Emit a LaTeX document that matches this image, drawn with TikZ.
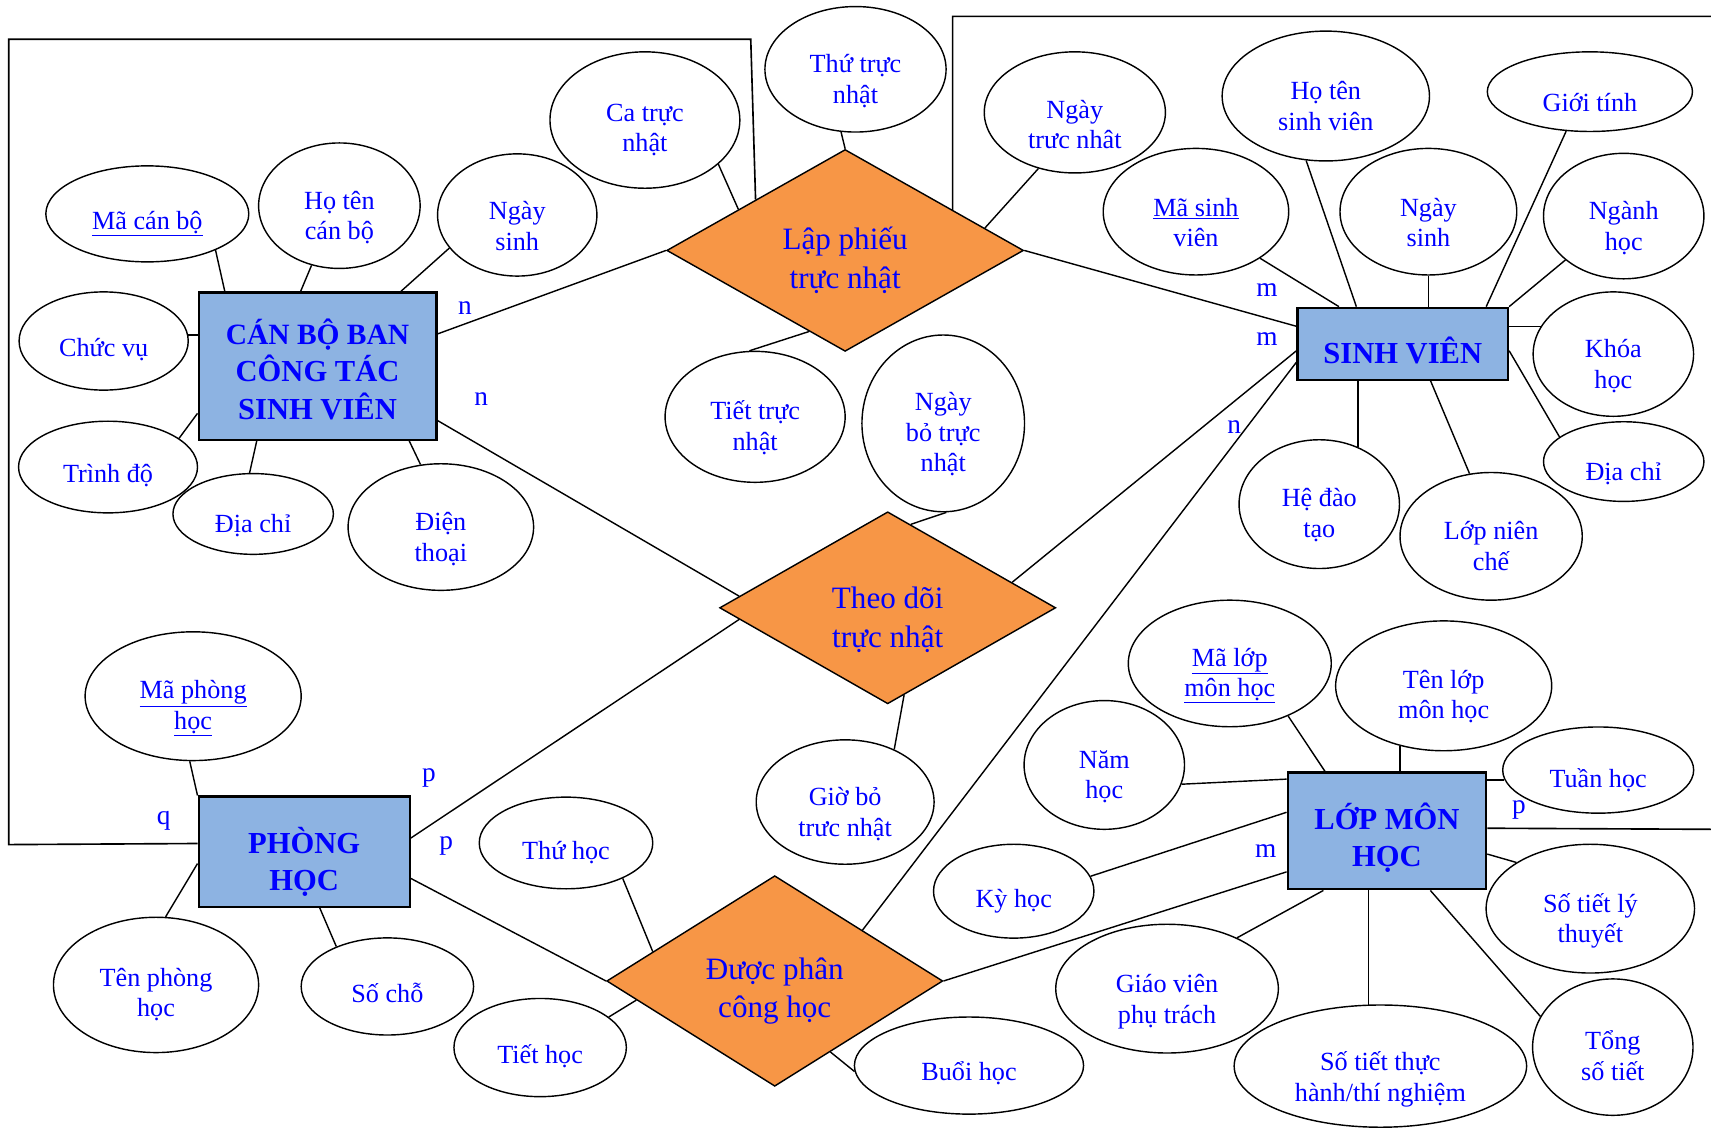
\documentclass[tikz,border=0pt]{standalone}
\usepackage{fontspec}
\setmainfont{Liberation Serif}
\usetikzlibrary{shapes.geometric,calc}
\definecolor{entblue}{HTML}{8DB3E2}
\definecolor{relorange}{HTML}{F79646}
\definecolor{txtblue}{HTML}{0000FF}
% shape style, name, x, y, width, height, text shift (down), text
\newcommand{\ernode}[8]{%
  \node[#1, minimum width=#5pt, minimum height=#6pt] (#2) at (#3,#4) {};
  \node[#1txt] (#2-t) at ($(#2)+(0,#7)$) {#8};}
\begin{document}
\begin{tikzpicture}[x=1pt,y=-1pt,
  ent/.style={draw=black, line width=2pt, fill=entblue, rectangle, inner sep=0pt},
  enttxt/.style={inner sep=0pt, align=center, font=\fontsize{28}{34}\selectfont\bfseries, text=txtblue},
  rel/.style={draw=black, line width=1.3pt, fill=relorange, diamond, inner sep=0pt},
  reltxt/.style={inner sep=0pt, align=center, font=\fontsize{28.5}{35}\selectfont, text=txtblue},
  attr/.style={draw=black, line width=1.3pt, fill=white, ellipse, inner sep=0pt},
  attrtxt/.style={inner sep=0pt, align=center, font=\fontsize{24}{28}\selectfont, text=txtblue},
  card/.style={inner sep=0pt, font=\fontsize{25}{30}\selectfont, text=txtblue},
  conn/.style={draw=black, line width=1.3pt},
  framel/.style={draw=black, line width=1.5pt}
]
\useasboundingbox[fill=white] (0,0) rectangle (1568,1036);

% ---------- entities ----------
\ernode{ent}{cb}{291}{335.5}{218}{135}{3}{\fontsize{27}{34}\selectfont CÁN BỘ BAN\\CÔNG TÁC\\SINH VIÊN}
\ernode{ent}{sv}{1285.5}{315}{193}{66}{6}{SINH VIÊN}
\ernode{ent}{ph}{278.75}{780.5}{193.5}{101}{9}{PHÒNG\\HỌC}
\ernode{ent}{lop}{1271}{761.5}{182}{107}{6}{LỚP MÔN\\HỌC}

% ---------- relationships ----------
\ernode{rel}{lp}{774.5}{229.5}{327}{185}{9}{Lập phiếu\\trực nhật}
\ernode{rel}{td}{813.5}{557}{308}{176}{11}{Theo dõi\\trực nhật}
\ernode{rel}{dp}{710}{899}{308}{193}{9}{Được phân\\công học}

% ---------- attributes ----------
\ernode{attr}{macb}{135}{196}{186}{88}{9}{\underline{Mã cán bộ}}
\ernode{attr}{hotencb}{311}{188.5}{148}{115}{11}{Họ tên\\cán bộ}
\ernode{attr}{ngaysinhcb}{474}{197}{146}{112}{10}{Ngày\\sinh}
\ernode{attr}{catruc}{591}{110}{174}{125}{9}{Ca trực\\nhật}
\ernode{attr}{chucvu}{95}{312.5}{155}{90}{8}{Chức vụ}
\ernode{attr}{trinhdo}{99}{428}{164}{84}{8}{Trình độ}
\ernode{attr}{diachicb}{232}{471}{147}{74}{11}{Địa chỉ}
\ernode{attr}{dienthoai}{404}{483}{170}{116}{11}{Điện\\thoại}
\ernode{attr}{tiettruc}{692}{382}{165}{120}{10}{Tiết trực\\nhật}
\ernode{attr}{thutruc}{784}{63.5}{166}{115}{11}{Thứ trực\\nhật}
\ernode{attr}{ngaytruc}{985}{103}{166}{111}{11}{Ngày\\trưc nhât}
\ernode{attr}{hotensv}{1215}{88}{190}{119}{9}{Họ tên\\sinh viên}
\ernode{attr}{gioitinh}{1457}{84}{188}{73}{10}{Giới tính}
\ernode{attr}{masv}{1096}{194}{170}{116}{10}{\underline{Mã sinh}\\viên}
\ernode{attr}{ngaysinhsv}{1309}{194}{162}{116}{10}{Ngày\\sinh}
\ernode{attr}{nganh}{1488}{198}{147}{115}{11}{Ngành\\học}
\ernode{attr}{khoa}{1478.5}{324.5}{147}{114}{11}{Khóa\\học}
\ernode{attr}{diachisv}{1488}{423}{147}{73}{11}{Địa chỉ}
\ernode{attr}{hedaotao}{1209}{462}{147}{118}{10}{Hệ đào\\tạo}
\ernode{attr}{lopnc}{1366.5}{491.5}{167}{117}{9}{Lớp niên\\chế}
\ernode{attr}{ngaybo}{864.4}{388}{149}{162}{10}{Ngày\\bỏ trực\\nhật}
\ernode{attr}{maphong}{177}{638}{198}{118}{11}{\underline{Mã phòng}\\\underline{học}}
\ernode{attr}{tenphong}{143}{902.6}{188}{124}{9}{Tên phòng\\học}
\ernode{attr}{socho}{355}{904}{158}{89}{6}{Số chỗ}
\ernode{attr}{thuhoc}{518.7}{772.5}{159}{84}{9}{Thứ học}
\ernode{attr}{tiethoc}{495}{960}{158}{90}{8}{Tiết học}
\ernode{attr}{giobo}{774.5}{735}{163}{114}{11}{Giờ bỏ\\trưc nhật}
\ernode{attr}{buoihoc}{888}{976.5}{210}{89}{7}{Buổi học}
\ernode{attr}{malop}{1127}{608}{186}{116}{11}{\underline{Mã lớp}\\\underline{môn học}}
\ernode{attr}{tenlop}{1323}{628.5}{198}{119}{10}{Tên lớp\\môn học}
\ernode{attr}{namhoc}{1012}{701}{147}{118}{11}{Năm\\học}
\ernode{attr}{tuanhoc}{1464.6}{705.7}{175}{79}{9}{Tuần học}
\ernode{attr}{kyhoc}{929}{816.7}{147}{86}{9}{Kỳ học}
\ernode{attr}{solt}{1457.4}{832.7}{191}{118}{11}{Số tiết lý\\thuyết}
\ernode{attr}{giaovien}{1069.5}{906}{204}{118}{12}{Giáo viên\\phụ trách}
\ernode{attr}{sotietth}{1265}{977}{268}{112}{12}{Số tiết thực\\hành/thí nghiệm}
\ernode{attr}{tong}{1478}{959.6}{147}{125}{8}{Tổng\\số tiết}

% ---------- frame lines ----------
\coordinate (fa) at (688,36);
\coordinate (fb) at (8,36);
\coordinate (fc) at (8,774);
\coordinate (fd) at (873,15);
\coordinate (fe) at (1568,15);
\coordinate (ff) at (1568,760);
\draw[framel] ($(lp.west)!0.5!(lp.north)$) -- (fa) -- (fb) -- (fc) -- ($(ph.north west)+(0,44)$);
\draw[framel] ($(lp.north)!0.6!(lp.east)$) -- (fd) -- (fe);
\draw[framel] ($(lop.north east)+(0,52)$) -- (ff);

% ---------- entity-relationship connectors ----------
\draw[conn] ($(cb.north east)+(0,39)$) -- (lp.west);
\draw[conn] (lp.east) -- ($(sv.north west)+(0,18)$);
\draw[conn] ($(cb.north east)+(0,118.4)$) -- ($(td.west)!0.12!(td.north)$);
\draw[conn] ($(ph.north east)+(0,39)$) -- ($(td.west)!0.12!(td.south)$);
\draw[conn] ($(sv.north west)+(0,40.5)$) -- ($(td.north)!0.737!(td.east)$);
\draw[conn] ($(ph.north east)+(0,76)$) -- (dp.west);
\draw[conn] ($(sv.north west)+(0,51)$) -- ($(dp.north)!0.52!(dp.east)$);
\draw[conn] (dp.east) -- ($(lop.north west)+(0,92)$);

% ---------- attribute connectors: CB ----------
\draw[conn] (macb.-28.9) -- ($(cb.north west)+(25,0)$);
\draw[conn] (hotencb.-115.5) -- ($(cb.north west)+(94.5,0)$);
\draw[conn] (ngaysinhcb.-154.2) -- ($(cb.north west)+(186.4,0)$);
\draw[conn] (chucvu.4) -- (chucvu.4 -| cb.west);
\draw[conn] (trinhdo.22.7) -- ($(cb.north west)+(0,111.8)$);
\draw[conn] (diachicb.95) -- ($(cb.south west)+(54.3,0)$);
\draw[conn] (dienthoai.108.2) -- ($(cb.south west)+(194,0)$);

% ---------- attribute connectors: Lap phieu ----------
\draw[conn] (catruc.-31.3) -- ($(lp.west)!0.404!(lp.north)$);
\draw[conn] (thutruc.-103.7) -- (lp.north);
\draw[conn] (tiettruc.95.8) -- ($(lp.west)!0.798!(lp.south)$);
\draw[conn] (ngaytruc.-123.3) -- ($(lp.north)!0.78!(lp.east)$);

% ---------- attribute connectors: SV ----------
\draw[conn] (masv.-36.9) -- ($(sv.north west)+(39,0)$);
\draw[conn] (hotensv.-107.7) -- ($(sv.north west)+(55,0)$);
\draw[conn] (ngaysinhsv.south) -- (ngaysinhsv.south |- sv.north);
\draw[conn] (gioitinh.-121) -- ($(sv.north west)+(174,0)$);
\draw[conn] (nganh.-143) -- (sv.north east);
\draw[conn] (khoa.159.3) -- (khoa.159.3 -| sv.east);
\draw[conn] (diachisv.159) -- ($(sv.north east)+(0,40.4)$);
\draw[conn] (hedaotao.56) -- (hedaotao.56 |- sv.south);
\draw[conn] (lopnc.109.6) -- ($(sv.south west)+(123,0)$);

% ---------- attribute connectors: Theo doi ----------
\draw[conn] (ngaybo.-88) -- ($(td.north)!0.137!(td.east)$);
\draw[conn] (giobo.47.8) -- ($(td.south)!0.097!(td.east)$);

% ---------- attribute connectors: Duoc phan ----------
\draw[conn] (thuhoc.-32) -- ($(dp.west)!0.277!(dp.north)$);
\draw[conn] (tiethoc.24.8) -- ($(dp.west)!0.18!(dp.south)$);
\draw[conn] (buoihoc.183.8) -- ($(dp.south)!0.33!(dp.east)$);

% ---------- attribute connectors: Phong ----------
\draw[conn] (maphong.-93.5) -- (ph.north west);
\draw[conn] (tenphong.82.8) -- ($(ph.north west)+(0,62.4)$);
\draw[conn] (socho.142.6) -- ($(ph.south west)+(112,0)$);

% ---------- attribute connectors: Lop ----------
\draw[conn] (malop.-42.4) -- ($(lop.north west)+(35.3,0)$);
\draw[conn] (tenlop.-126.4) -- (tenlop.-126.4 |- lop.north);
\draw[conn] (namhoc.-14.3) -- ($(lop.north west)+(0,7)$);
\draw[conn] (tuanhoc.186) -- (tuanhoc.186 -| lop.east);
\draw[conn] (kyhoc.11) -- ($(lop.north west)+(0,37.4)$);
\draw[conn] (solt.148.2) -- ($(lop.north east)+(0,75.7)$);
\draw[conn] (giaovien.36.9) -- ($(lop.south west)+(33.8,0)$);
\draw[conn] (sotietth.101.2) -- (sotietth.101.2 |- lop.south);
\draw[conn] (tong.157) -- ($(lop.south west)+(131.8,0)$);

% ---------- cardinalities ----------
\node[card] (c1) at (426,282) {n};
\node[card] (c2) at (441,366) {n};
\node[card] (c3) at (1161,266) {m};
\node[card] (c4) at (1161,311) {m};
\node[card] (c5) at (1131,391) {n};
\node[card] (c6) at (150,752) {q};
\node[card] (c7) at (393,713) {p};
\node[card] (c8) at (409,775) {p};
\node[card] (c9) at (1160,780) {m};
\node[card] (c10) at (1392,742) {p};
\end{tikzpicture}
\end{document}
